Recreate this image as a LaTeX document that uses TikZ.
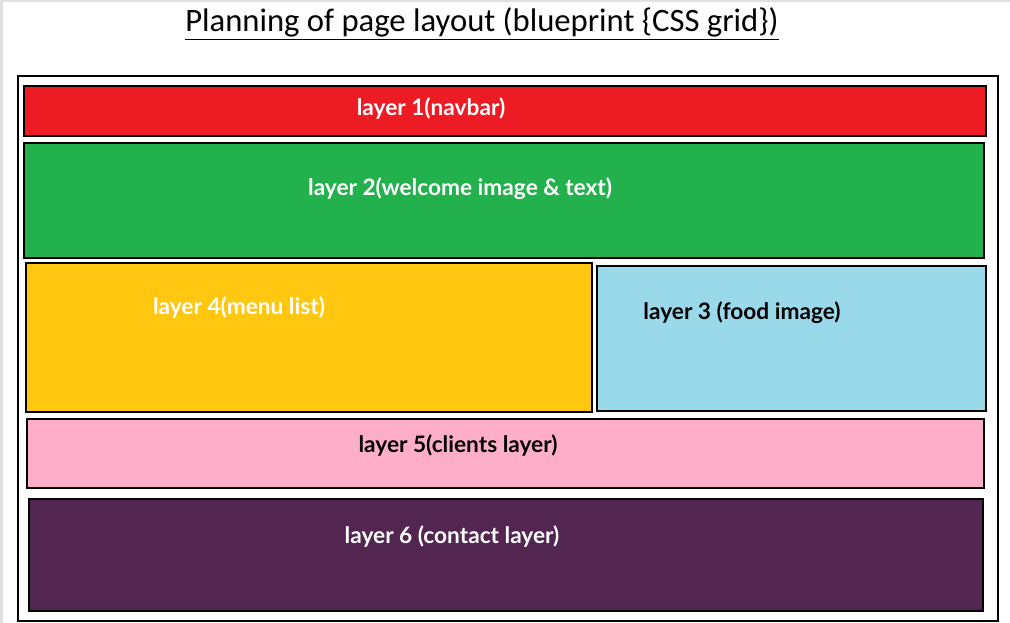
\documentclass[tikz,border=0pt]{standalone}
\usepackage{fontspec}
\setmainfont{Lato}
\newfontfamily\titlefont{Carlito}
\definecolor{cred}{HTML}{ED1C24}
\definecolor{cgreen}{HTML}{22B14C}
\definecolor{cyellow}{HTML}{FFC70F}
\definecolor{cblue}{HTML}{99D9EA}
\definecolor{cpink}{HTML}{FFAEC9}
\definecolor{cpurple}{HTML}{522650}
\definecolor{edgegray}{HTML}{E0E0E0}
\begin{document}
\begin{tikzpicture}[x=0.75pt,y=-0.75pt,
  layerbox/.style={draw=black,line width=1.2pt},
  lbl/.style={font=\bfseries\fontsize{17}{20}\selectfont,inner sep=0pt},
  wlbl/.style={lbl,text=white},
  blbl/.style={lbl,text=black}]
\useasboundingbox (0,0) rectangle (1010,623);
\fill[white] (0,0) rectangle (1010,623);
\fill[edgegray] (0,0) rectangle (3,623);
\fill[edgegray] (0,0) rectangle (1010,2);
% title
\node[inner sep=0pt,font=\titlefont\fontsize{24.5}{29}\selectfont] (title) at (482,24) {\underline{Planning of page layout (blueprint \{CSS grid\})}};
% outer frame
\draw[line width=1.5pt] (18,76) rectangle (998,621);
% layers
\draw[layerbox,fill=cred] (24,86) rectangle (986,136);
\draw[layerbox,fill=cgreen] (24,143) rectangle (984,258);
\draw[layerbox,fill=cyellow] (26,263) rectangle (592,412);
\draw[layerbox,fill=cblue] (597,266) rectangle (986,411);
\draw[layerbox,fill=cpink] (27,419) rectangle (984,488);
\draw[layerbox,fill=cpurple] (29,499) rectangle (983,611);
% labels
\node[wlbl] (l1) at (431,109) {layer 1(navbar)};
\node[wlbl] (l2) at (460,189) {layer 2(welcome image \& text)};
\node[wlbl] (l4) at (239,308) {layer 4(menu list)};
\node[blbl] (l3) at (742,313) {layer 3 (food image)};
\node[blbl] (l5) at (458,446) {layer 5(clients layer)};
\node[wlbl] (l6) at (452,536) {layer 6 (contact layer)};
\end{tikzpicture}
\end{document}
